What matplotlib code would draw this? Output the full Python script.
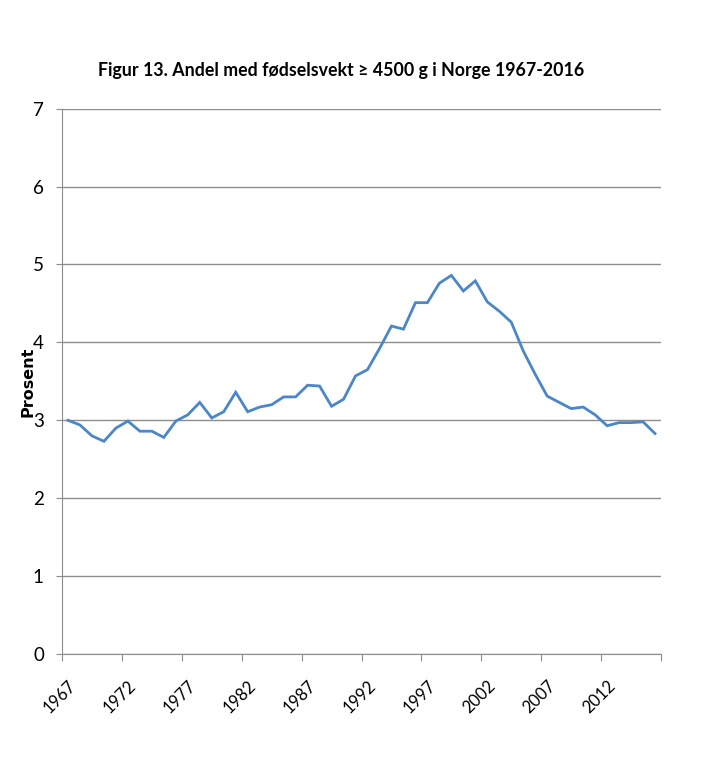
import matplotlib
matplotlib.use("Agg")
import matplotlib.pyplot as plt
from matplotlib.ticker import FixedLocator

years = list(range(1967, 2017))
prosent = [3.00, 2.94, 2.80, 2.73, 2.90, 2.99, 2.86, 2.86, 2.78, 2.99,
           3.07, 3.23, 3.03, 3.11, 3.36, 3.11, 3.17, 3.20, 3.30, 3.30,
           3.45, 3.44, 3.18, 3.27, 3.57, 3.65, 3.92, 4.21, 4.17, 4.51,
           4.51, 4.76, 4.86, 4.66, 4.79, 4.52, 4.40, 4.26, 3.89, 3.59,
           3.31, 3.23, 3.15, 3.17, 3.07, 2.93, 2.97, 2.97, 2.98, 2.83]
label_years = [1967, 1972, 1977, 1982, 1987, 1992, 1997, 2002, 2007, 2012]

plt.rcParams['font.family'] = ['Lato', 'DejaVu Sans']

fig = plt.figure(figsize=(7.2, 7.71), dpi=100)
ax = fig.add_axes([0.0861, 0.1518, 0.832, 0.7072])

ax.plot(years, prosent, color='#4a86c8', lw=2, solid_joinstyle='miter')

ax.set_xlim(1966.5, 2016.5)
ax.set_ylim(0, 7)
ax.set_yticks(range(0, 8))
ax.yaxis.grid(True, color='#8c8c8c', lw=1)
ax.set_axisbelow(True)

# tick marks on category boundaries, labels on category centres
ax.xaxis.set_major_locator(FixedLocator([1966.5 + 5 * i for i in range(11)]))
ax.xaxis.set_major_formatter(plt.NullFormatter())
ax.xaxis.set_minor_locator(FixedLocator(label_years))
ax.set_xticklabels([str(y) for y in label_years], minor=True)
ax.tick_params(axis='x', which='major', length=5, color='#8c8c8c', direction='out')
ax.tick_params(axis='x', which='minor', length=0, pad=17, labelsize=12)
for lbl in ax.get_xticklabels(minor=True):
    lbl.set_rotation(45)
    lbl.set_ha('right')
    lbl.set_va('top')
    lbl.set_rotation_mode('anchor')

ax.tick_params(axis='y', length=4, color='#8c8c8c', labelsize=13.5, pad=9)

for s in ['top', 'right']:
    ax.spines[s].set_visible(False)
for s in ['left', 'bottom']:
    ax.spines[s].set_color('#8c8c8c')

ax.set_ylabel('Prosent', fontsize=11.5, fontweight='bold', family='DejaVu Sans')
ax.yaxis.set_label_coords(-0.045, 0.5)

fig.text(0.474, 0.909, 'Figur 13. Andel med fødselsvekt \u2265 4500 g i Norge 1967-2016',
         ha='center', va='center', fontsize=12.8, fontweight='bold')

fig.savefig('out.png', dpi=100)
